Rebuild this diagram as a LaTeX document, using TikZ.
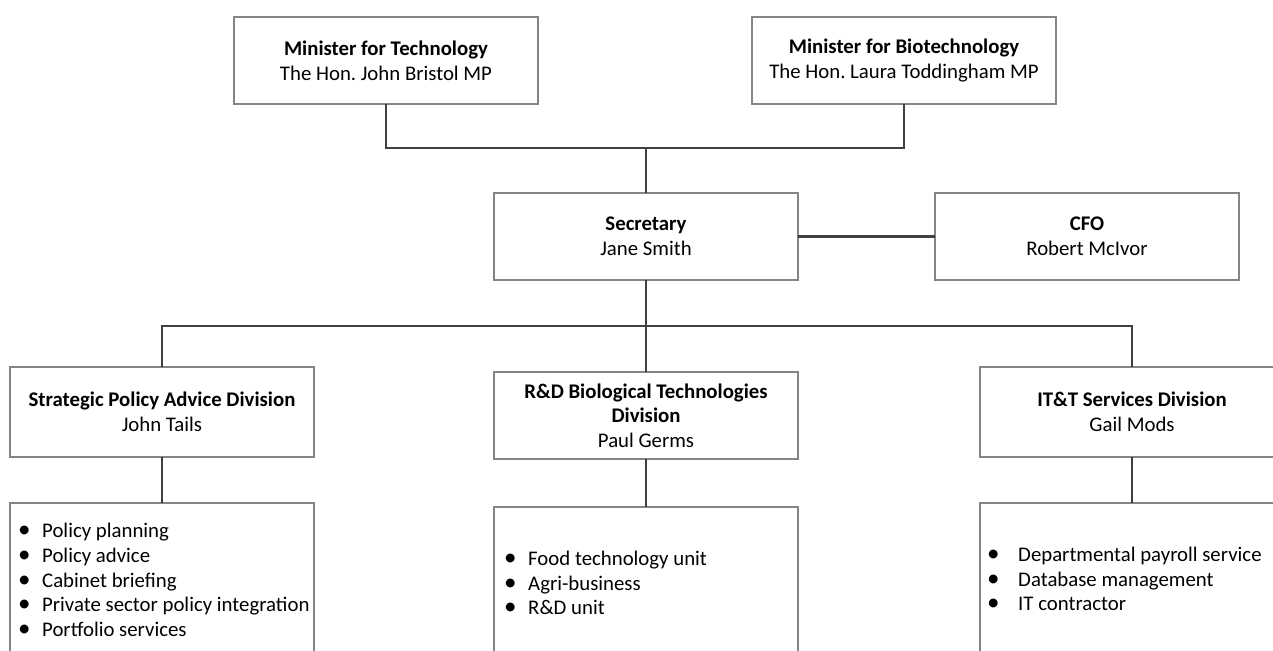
\documentclass[tikz,border=0pt]{standalone}
\usepackage{fontspec}
\setmainfont{Carlito}
\frenchspacing
\definecolor{boxgray}{HTML}{858585}
\definecolor{conngray}{HTML}{404040}
\newcommand\fs{\fontsize{20.8}{24.6}\selectfont}
\newcommand\itm[2]{\makebox[#1pt][l]{\scalebox{1.2}{\textbullet}}#2}
\begin{document}
\begin{tikzpicture}[x=1pt,y=-1pt,
  box/.style={draw=boxgray, line width=1.3pt, minimum width=304pt, minimum height=87pt,
    inner sep=0pt, outer sep=0pt, align=center, font=\fs, anchor=north west},
  conn/.style={draw=conngray, line width=2.4pt},
  list/.style={align=left, inner sep=0pt, anchor=west, font=\fs}]
\useasboundingbox (0,0) rectangle (1273,650);
\clip (0,0) rectangle (1273,650);
% boxes
\node[box] (mt) at (234,17) {\textbf{Minister for Technology}\\The Hon. John Bristol MP};
\node[box] (mb) at (752,17) {\textbf{Minister for Biotechnology}\\The Hon. Laura Toddingham MP};
\node[box] (sec) at (494,193) {\textbf{Secretary}\\Jane Smith};
\node[box] (cfo) at (935,193) {\textbf{CFO}\\Robert McIvor};
\node[box, minimum height=90pt] (d1) at (10,367) {\textbf{Strategic Policy Advice Division}\\John Tails};
\node[box] (d2) at (494,372) {\textbf{R\&D Biological Technologies}\\\textbf{Division}\\Paul Germs};
\node[box, minimum height=90pt] (d3) at (980,367) {\textbf{IT\&T Services Division}\\Gail Mods};
\node[box, minimum height=200pt] (u1) at (10,503) {};
\node[box, minimum height=200pt] (u2) at (494,507) {};
\node[box, minimum height=200pt] (u3) at (980,503) {};
% lists
\node[list] (l1) at (18,580) {\itm{24}{Policy planning}\\\itm{24}{Policy advice}\\\itm{24}{Cabinet briefing}\\\itm{24}{Private sector policy integration}\\\itm{24}{Portfolio services}};
\node[list] (l2) at (504,583) {\itm{24}{Food technology unit}\\\itm{24}{Agri-business}\\\itm{24}{R\&D unit}};
\node[list] (l3) at (987,579) {\itm{31}{Departmental payroll service}\\\itm{31}{Database management}\\\itm{31}{IT contractor}};
% connectors
\path (sec.north) ++(0,-45) coordinate (jt);
\path (sec.south) ++(0,46) coordinate (jb);
\draw[conn] (mt.south) |- (jt) -| (mb.south);
\draw[conn] (jt) -- (sec.north);
\draw[conn] (sec.east) -- (cfo.west);
\draw[conn] (sec.south) -- (jb);
\draw[conn] (d1.north) |- (jb) -| (d3.north);
\draw[conn] (jb) -- (d2.north);
\draw[conn] (d1.south) -- (u1.north);
\draw[conn] (d2.south) -- (u2.north);
\draw[conn] (d3.south) -- (u3.north);
\end{tikzpicture}
\end{document}
